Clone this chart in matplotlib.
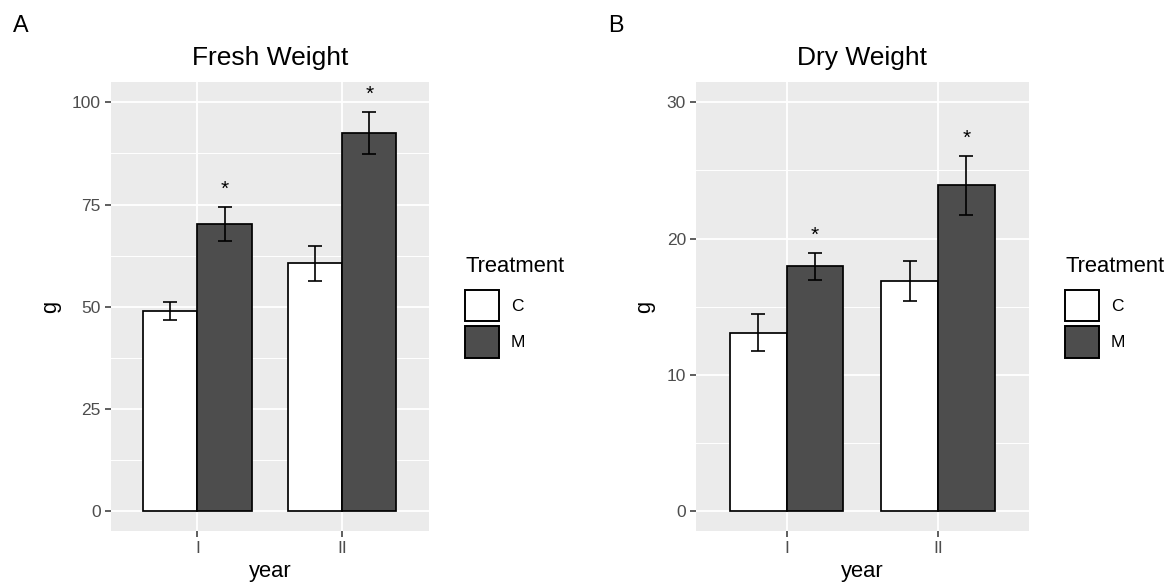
import matplotlib.pyplot as plt
import numpy as np
from matplotlib.patches import Patch
from matplotlib.ticker import MultipleLocator

plt.rcParams["font.family"] = ["Liberation Sans", "DejaVu Sans"]

years = ["I", "II"]
treatments = ["C", "M"]

fresh_c = [48.9, 60.6]
fresh_c_se = [2.2, 4.2]
fresh_m = [70.3, 92.5]
fresh_m_se = [4.2, 5.2]

dry_c = [13.1, 16.9]
dry_c_se = [1.35, 1.47]
dry_m = [17.95, 23.9]
dry_m_se = [1.0, 2.2]

sig_m = ["*", "*"]

FILL = {"C": "white", "M": "#4D4D4D"}
BG = "#EBEBEB"
W = 1173
H = 587


def panel(ax, c, c_se, m, m_se, ylim, major, title):
    x = np.arange(1, len(years) + 1)
    bw = 0.375
    ax.set_facecolor(BG)
    ax.yaxis.set_major_locator(MultipleLocator(major))
    ax.yaxis.set_minor_locator(MultipleLocator(major / 2))
    ax.grid(which="major", color="white", lw=1.3)
    ax.grid(which="minor", axis="y", color="white", lw=0.7)
    ax.set_axisbelow(True)

    for vals, se, tr, off in [(c, c_se, "C", -bw / 2), (m, m_se, "M", bw / 2)]:
        ax.bar(x + off, vals, width=bw, color=FILL[tr], edgecolor="black", lw=1.25, zorder=2)
        ax.errorbar(x + off, vals, yerr=se, fmt="none", ecolor="black", elinewidth=1.2,
                    capsize=4.7, capthick=1.2, zorder=3)

    # significance marks above the M bars
    for xi, v, s, lab in zip(x + bw / 2, m, m_se, sig_m):
        ax.annotate(lab, (xi, v + s), xytext=(0, 8.5), textcoords="offset points",
                    ha="center", va="baseline", fontsize=15)

    ax.set_xlim(0.4, 2.6)
    ax.set_ylim(*ylim)
    ax.set_xticks(x)
    ax.set_xticklabels(years)
    for sp in ax.spines.values():
        sp.set_visible(False)
    ax.tick_params(axis="both", which="major", length=4, width=1.1, color="#333333",
                   labelcolor="#4D4D4D", labelsize=12.5, pad=3)
    ax.tick_params(axis="y", which="minor", length=0)
    ax.set_xlabel("year", fontsize=15.8, labelpad=4)
    ax.set_ylabel("g", fontsize=15.8, labelpad=8)
    ax.set_title(title, fontsize=19, pad=12)


fig = plt.figure(figsize=(W / 100, H / 100), dpi=100)

ax_a = fig.add_axes([110.6 / W, 1 - 531 / H, (429 - 110.6) / W, (531 - 82) / H])
panel(ax_a, fresh_c, fresh_c_se, fresh_m, fresh_m_se, (-4.9, 105), 25, "Fresh Weight")

ax_b = fig.add_axes([695.6 / W, 1 - 531 / H, (1029 - 695.6) / W, (531 - 82) / H])
panel(ax_b, dry_c, dry_c_se, dry_m, dry_m_se, (-1.48, 31.5), 10, "Dry Weight")

handles = [Patch(facecolor=FILL[t], edgecolor="black", lw=1.4) for t in treatments]
for ax, lx in [(ax_a, 465), (ax_b, 1065)]:
    fig.text(lx / W, 1 - 266 / H, "Treatment", fontsize=15.8, ha="left", va="center")
    ax.legend(handles, treatments, loc="upper left", bbox_to_anchor=(lx / W, 1 - 289.5 / H),
              bbox_transform=fig.transFigure, frameon=False, fontsize=12.5, borderpad=0,
              borderaxespad=0, handlelength=1.95, handleheight=2.45, labelspacing=0.25,
              handletextpad=0.7)

fig.text(20.7 / W, 1 - 25 / H, "A", fontsize=16.8, ha="center", va="center")
fig.text(615.5 / W, 1 - 25 / H, "B", fontsize=16.8, ha="center", va="center")

fig.savefig("out.png", dpi=100)
